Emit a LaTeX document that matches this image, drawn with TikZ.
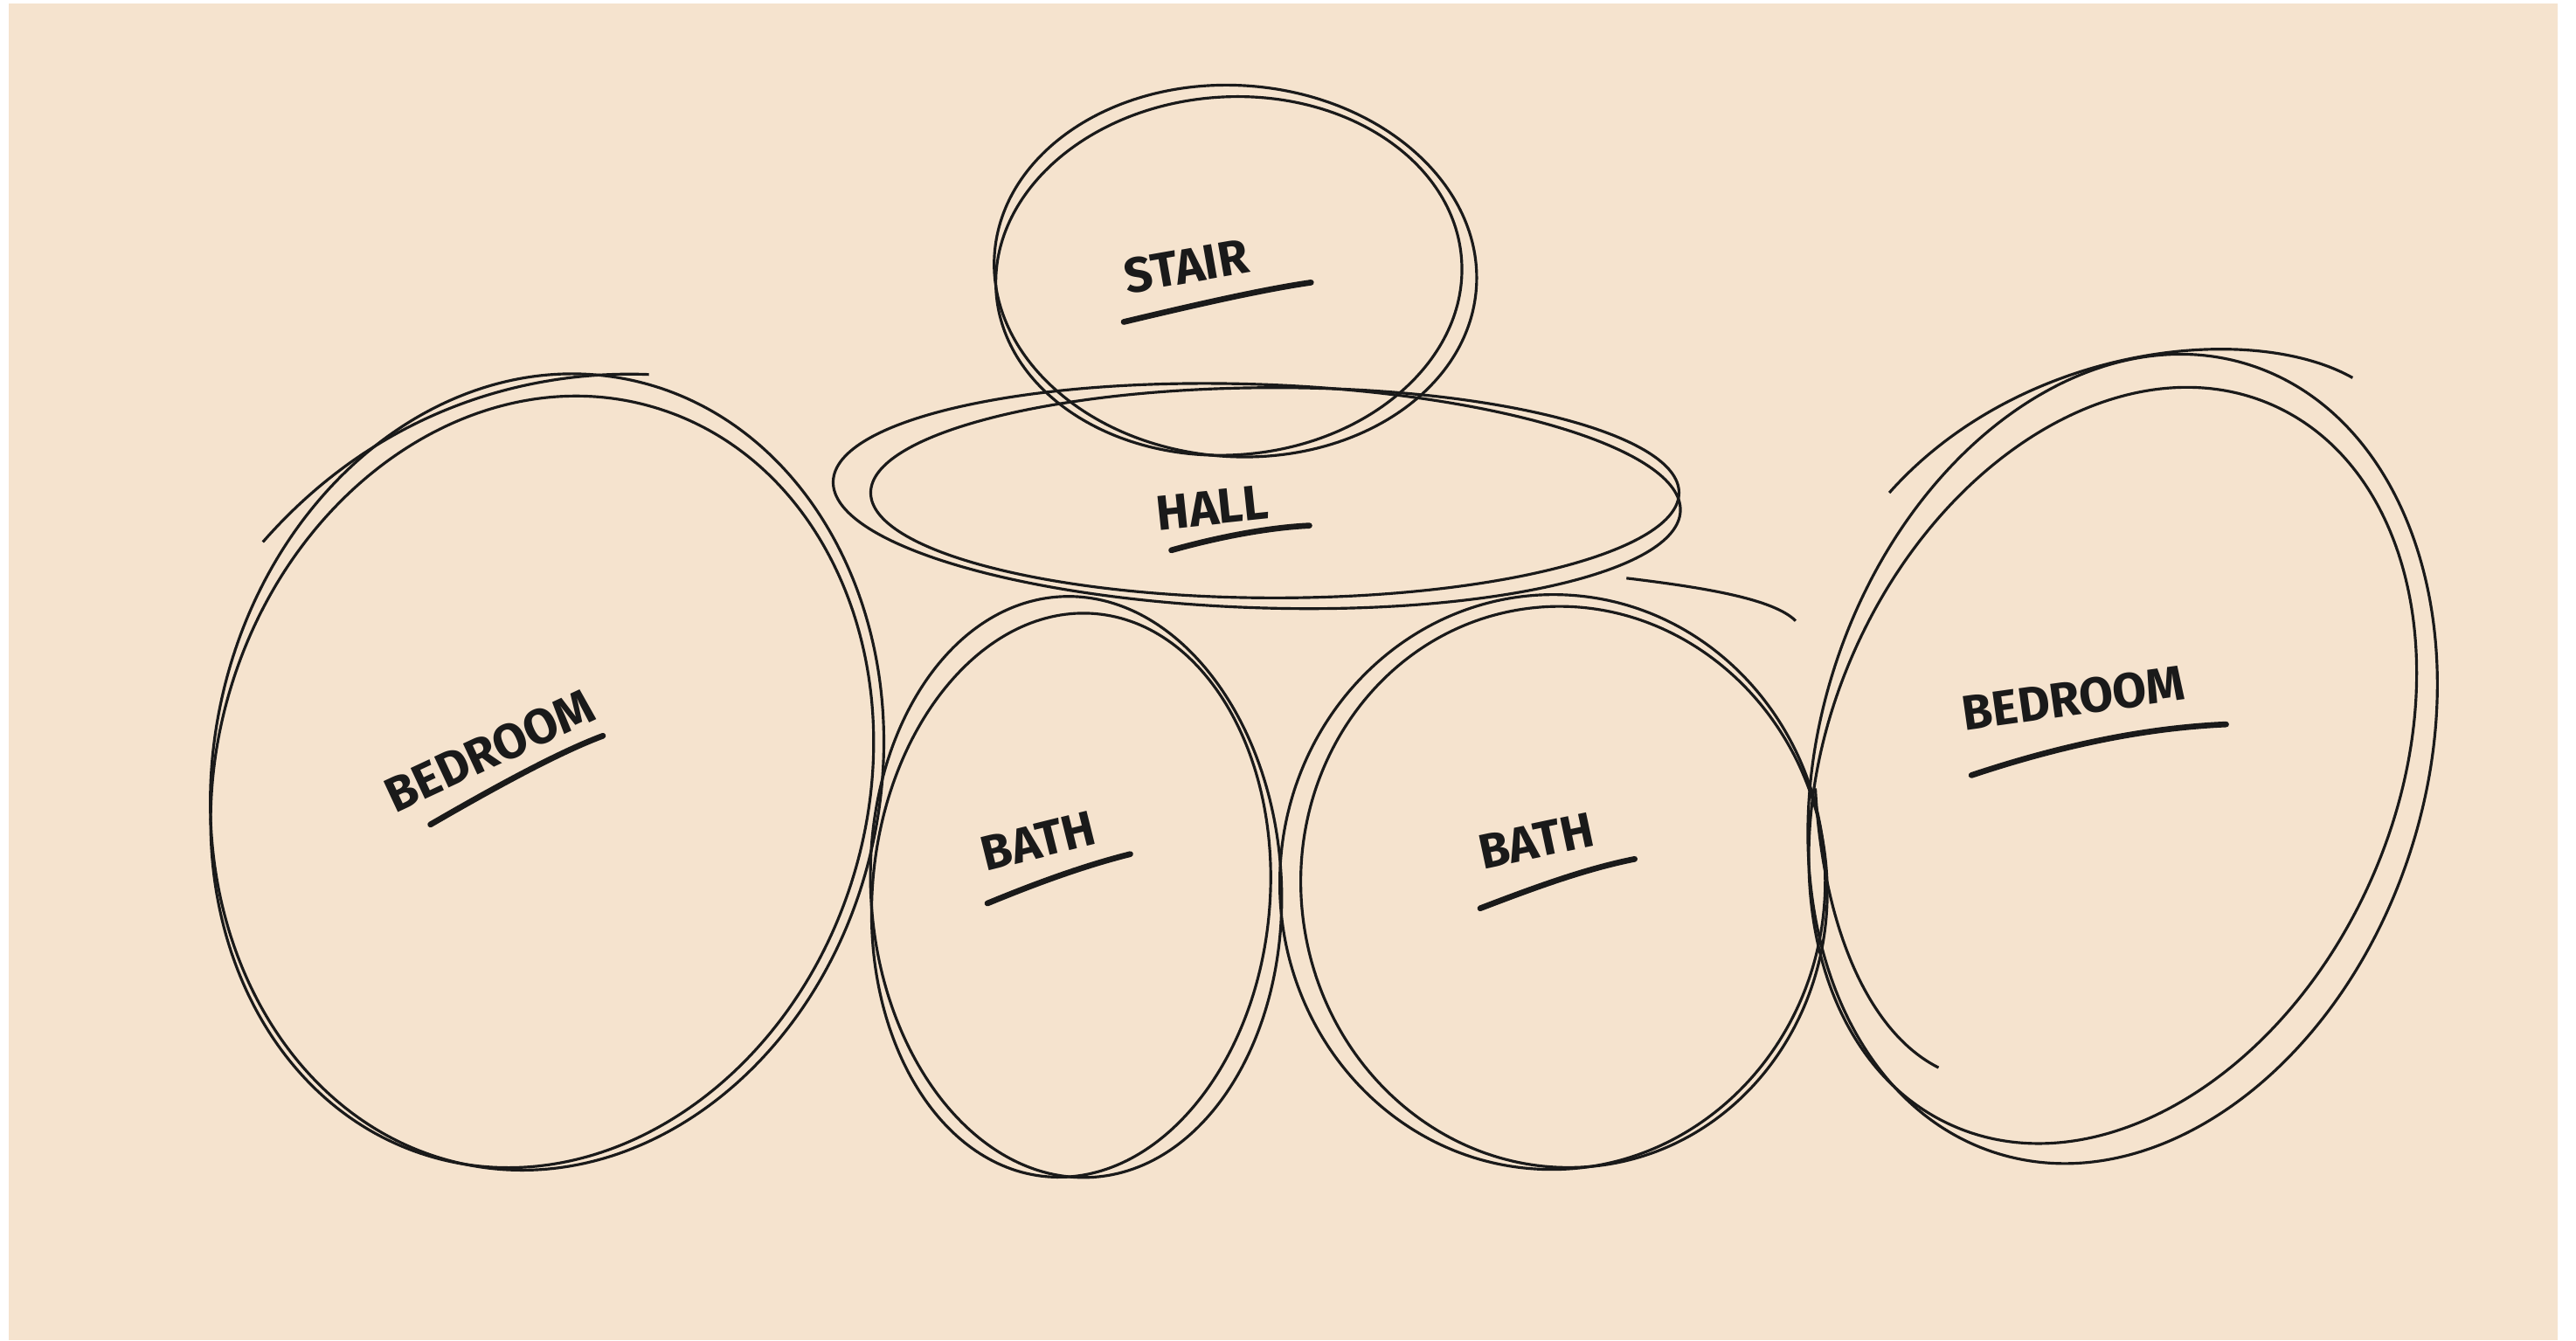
\documentclass[tikz,border=0pt]{standalone}
\usepackage{fontspec}
\newfontfamily\hand{Fira Sans}
\definecolor{paper}{HTML}{F5E3CE}
\definecolor{ink}{HTML}{1A1A1A}
\begin{document}
\begin{tikzpicture}[x=0.18801mm,y=-0.18801mm,
  sk/.style={line width=0.9pt, ink},
  lab/.style={font=\hand\bfseries\fontsize{16}{16}\selectfont, inner sep=0pt, text=ink},
  ul/.style={line width=1.9pt, line cap=round, ink}]
\useasboundingbox (0,0) rectangle (1568,816);
\fill[paper] (5.3,2.1) rectangle (1557,816);

% STAIR
\coordinate (cS) at (752,165);
\draw[sk, rotate around={-4:(cS)}] (cS) ellipse (147 and 113);
\draw[sk, rotate around={4:(748,168)}] (748,168) ellipse (142 and 109);

% HALL
\coordinate (cH) at (765,302);
\draw[sk, rotate around={-2:(cH)}] (cH) ellipse (258 and 68);
\draw[sk, rotate around={0:(776,300)}] (776,300) ellipse (246 and 64);
\draw[sk] (990,352) .. controls (1040,358) and (1080,365) .. (1093,378);

% LEFT BEDROOM
\coordinate (cB1) at (333,470);
\draw[sk, rotate around={-12:(cB1)}] (cB1) ellipse (203 and 244);
\draw[sk, rotate around={-17:(330,476)}] (330,476) ellipse (198 and 238);
\draw[sk] (160,330) .. controls (230,250) and (320,225) .. (395,228);

% LEFT BATH
\coordinate (cb1) at (655,540);
\draw[sk, rotate around={3:(cb1)}] (cb1) ellipse (125 and 177);
\draw[sk, rotate around={-5:(652,545)}] (652,545) ellipse (121 and 172);

% RIGHT BATH
\coordinate (cb2) at (945,537);
\draw[sk, rotate around={-2:(cb2)}] (cb2) ellipse (166 and 175);
\draw[sk, rotate around={8:(952,540)}] (952,540) ellipse (160 and 171);

% RIGHT BEDROOM
\coordinate (cB2) at (1292,462);
\draw[sk, rotate around={-18:(cB2)}] (cB2) ellipse (184 and 252);
\draw[sk, rotate around={-24:(1286,466)}] (1286,466) ellipse (172 and 240);
\draw[sk] (1150,300) .. controls (1230,210) and (1370,195) .. (1432,230);
\draw[sk] (1105,480) .. controls (1110,570) and (1140,630) .. (1180,650);

% LABELS
\node[lab, rotate=10] (stair) at (722,162) {STAIR};
\draw[ul] (684,196) .. controls (730,185) and (770,176) .. (798,172);

\node[lab, rotate=6] (hall) at (738,309) {HALL};
\draw[ul] (713,335) .. controls (745,326) and (775,321) .. (797,320);

\node[lab, rotate=25] (bed1) at (298,457) {BEDROOM};
\draw[ul] (262,502) .. controls (300,480) and (340,458) .. (367,448);

\node[lab, rotate=14] (bath1) at (632,512) {BATH};
\draw[ul] (601,550) .. controls (630,538) and (660,527) .. (688,520);

\node[lab, rotate=12] (bath2) at (935,512) {BATH};
\draw[ul] (901,553) .. controls (935,540) and (965,529) .. (995,523);

\node[lab, rotate=8] (bed2) at (1262,425) {BEDROOM};
\draw[ul] (1200,472) .. controls (1260,452) and (1310,443) .. (1355,441);
\end{tikzpicture}
\end{document}
